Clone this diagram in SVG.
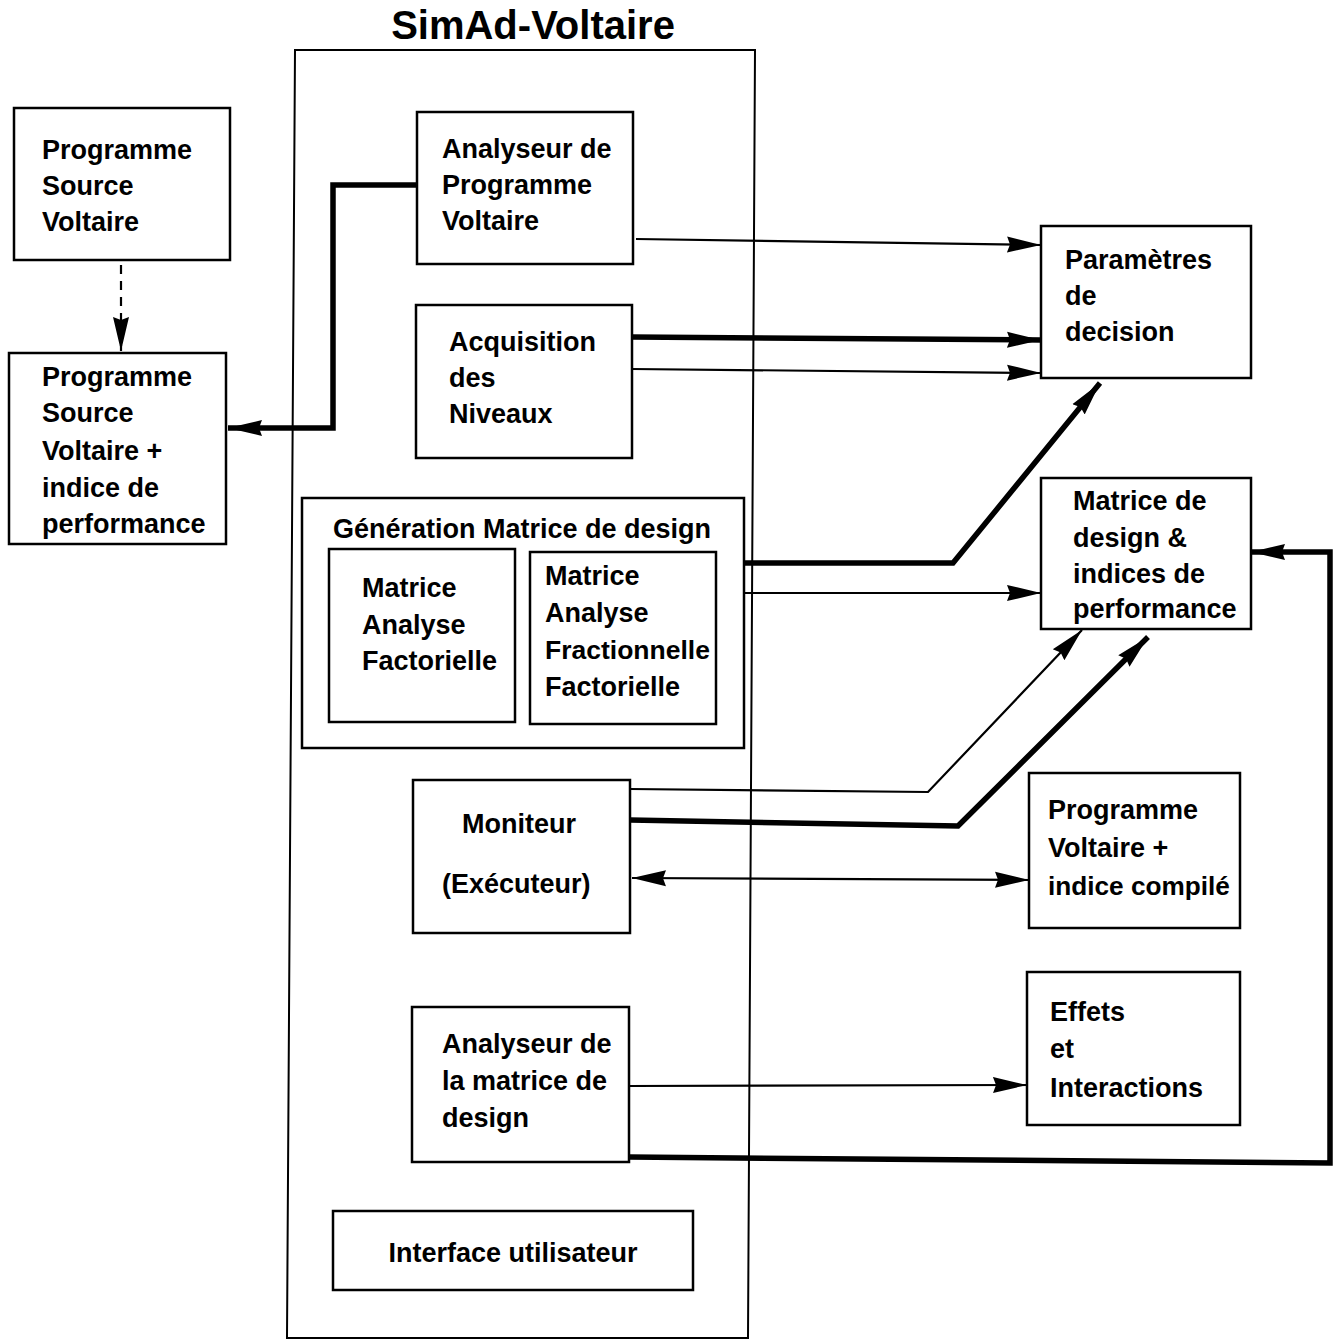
<svg xmlns="http://www.w3.org/2000/svg" width="1338" height="1341" viewBox="0 0 1338 1341">
<style>
.box{fill:#fff;stroke:#000;stroke-width:2.5}
.t{font-family:"Liberation Sans",Arial,sans-serif;font-weight:bold;font-size:27px;fill:#000}
.thin{fill:none;stroke:#000;stroke-width:2.2;stroke-linejoin:miter}
.thick{fill:none;stroke:#000;stroke-width:5.5;stroke-linejoin:miter}
</style>
<defs>
<marker id="ah" markerUnits="userSpaceOnUse" markerWidth="36" markerHeight="20" refX="34" refY="9" orient="auto-start-reverse" viewBox="0 0 36 20">
<path d="M0,1 L34,9 L0,17 L3,9 z" fill="#000"/>
</marker>
</defs>
<rect width="1338" height="1341" fill="#fff"/>
<g id="simad">
<polygon points="295,50 755,50 748,1338 287,1338" fill="none" stroke="#000" stroke-width="2"/>
<text class="t" x="533" y="39" text-anchor="middle" style="font-size:40px">SimAd-Voltaire</text>
</g>
<g id="src">
<rect class="box" x="14" y="108" width="216" height="152"/>
<text class="t" x="42" y="159">Programme</text>
<text class="t" x="42" y="195">Source</text>
<text class="t" x="42" y="231">Voltaire</text>
</g>
<g id="srcperf">
<rect class="box" x="9" y="353" width="217" height="191"/>
<text class="t" x="42" y="386">Programme</text>
<text class="t" x="42" y="422">Source</text>
<text class="t" x="42" y="460">Voltaire +</text>
<text class="t" x="42" y="497">indice de</text>
<text class="t" x="42" y="533">performance</text>
</g>
<g id="analyseur">
<rect class="box" x="417" y="112" width="216" height="152"/>
<text class="t" x="442" y="158">Analyseur de</text>
<text class="t" x="442" y="194">Programme</text>
<text class="t" x="442" y="230">Voltaire</text>
</g>
<g id="acquisition">
<rect class="box" x="416" y="305" width="216" height="153"/>
<text class="t" x="449" y="351">Acquisition</text>
<text class="t" x="449" y="387">des</text>
<text class="t" x="449" y="423">Niveaux</text>
</g>
<g id="generation">
<rect class="box" x="302" y="498" width="442" height="250"/>
<text class="t" x="333" y="538">Génération Matrice de design</text>
<g id="mfact">
<rect class="box" x="329" y="549" width="186" height="173"/>
<text class="t" x="362" y="597">Matrice</text>
<text class="t" x="362" y="634">Analyse</text>
<text class="t" x="362" y="670">Factorielle</text>
</g>
<g id="mfrac">
<rect class="box" x="530" y="552" width="186" height="172"/>
<text class="t" x="545" y="585">Matrice</text>
<text class="t" x="545" y="622">Analyse</text>
<text class="t" x="545" y="659" style="font-size:26.5px">Fractionnelle</text>
<text class="t" x="545" y="696">Factorielle</text>
</g>
</g>
<g id="moniteur">
<rect class="box" x="413" y="780" width="217" height="153"/>
<text class="t" x="462" y="833">Moniteur</text>
<text class="t" x="442" y="893">(Exécuteur)</text>
</g>
<g id="analysematrice">
<rect class="box" x="412" y="1007" width="217" height="155"/>
<text class="t" x="442" y="1053">Analyseur de</text>
<text class="t" x="442" y="1090">la matrice de</text>
<text class="t" x="442" y="1127">design</text>
</g>
<g id="interface">
<rect class="box" x="333" y="1211" width="360" height="79"/>
<text class="t" x="513" y="1262" text-anchor="middle">Interface utilisateur</text>
</g>
<g id="parametres">
<rect class="box" x="1041" y="226" width="210" height="152"/>
<text class="t" x="1065" y="269">Paramètres</text>
<text class="t" x="1065" y="305">de</text>
<text class="t" x="1065" y="341">decision</text>
</g>
<g id="matriceperf">
<rect class="box" x="1041" y="478" width="210" height="151"/>
<text class="t" x="1073" y="510">Matrice de</text>
<text class="t" x="1073" y="547">design &amp;</text>
<text class="t" x="1073" y="583">indices de</text>
<text class="t" x="1073" y="618">performance</text>
</g>
<g id="compile">
<rect class="box" x="1029" y="773" width="211" height="155"/>
<text class="t" x="1048" y="819">Programme</text>
<text class="t" x="1048" y="857">Voltaire +</text>
<text class="t" x="1048" y="895" style="font-size:26.2px">indice compilé</text>
</g>
<g id="effets">
<rect class="box" x="1027" y="972" width="213" height="153"/>
<text class="t" x="1050" y="1021">Effets</text>
<text class="t" x="1050" y="1058">et</text>
<text class="t" x="1050" y="1097">Interactions</text>
</g>
<g id="connectors">
<path class="thin" d="M121,265 L121,351" stroke-dasharray="9,7" marker-end="url(#ah)"/>
<path class="thick" d="M417,185 L333,185 L333,428 L228,428" marker-end="url(#ah)"/>
<path class="thin" d="M636,239 L1041,245" marker-end="url(#ah)"/>
<path class="thick" d="M632,337 L1041,340" marker-end="url(#ah)"/>
<path class="thin" d="M632,369 L1041,373" marker-end="url(#ah)"/>
<path class="thick" d="M744,563 L953,563 L1100,383" marker-end="url(#ah)"/>
<path class="thin" d="M744,593 L1041,593" marker-end="url(#ah)"/>
<path class="thin" d="M630,789 L928,792 L1082,630" marker-end="url(#ah)"/>
<path class="thick" d="M630,820 L958,826 L1148,637" marker-end="url(#ah)"/>
<path class="thin" d="M632,878 L1029,880" marker-start="url(#ah)" marker-end="url(#ah)"/>
<path class="thin" d="M629,1086 L1027,1085" marker-end="url(#ah)"/>
<path class="thick" d="M629,1157 L1330,1163 L1330,552 L1251,552" marker-end="url(#ah)"/>
</g>
</svg>
